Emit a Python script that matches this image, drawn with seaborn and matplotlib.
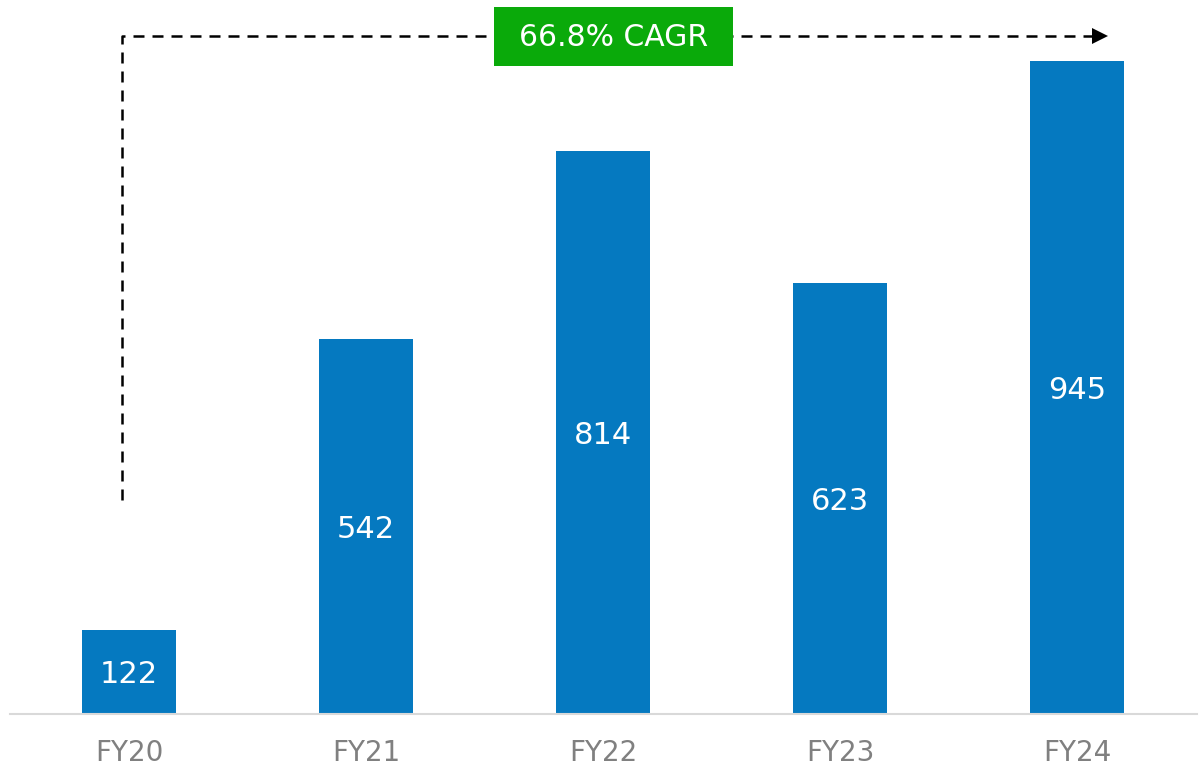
import matplotlib
matplotlib.use("Agg")
import matplotlib.pyplot as plt
import seaborn as sns
import pandas as pd
from matplotlib.patches import Rectangle

categories = ["FY20", "FY21", "FY22", "FY23", "FY24"]
values = [122, 542, 814, 623, 945]
cagr_label = "66.8% CAGR"

BAR_COLOR = "#0579C0"
GREEN = "#0AAA0A"
TICK_GRAY = "#808080"

sns.set_theme(style="white")
plt.rcParams["font.family"] = ["DejaVu Sans"]

df = pd.DataFrame({"year": categories, "value": values})

fig = plt.figure(figsize=(12.01, 7.65), dpi=100)
ax = fig.add_axes([10 / 1201, 51 / 765, 1187 / 1201, 714 / 765])

sns.barplot(data=df, x="year", y="value", color=BAR_COLOR, saturation=1,
            width=0.4, ax=ax, zorder=2, linewidth=0)

ax.set_xlim(-0.502, 4.506)
ax.set_ylim(0, 1033)

for i, v in enumerate(values):
    ax.text(i, v / 2 - 4, f"{v}", ha="center", va="center", color="white",
            fontsize=22, zorder=3)

# CAGR dashed connector
x0, y0 = -0.03, 310
ytop = 981
xend = 4.065
ax.plot([x0, x0, xend], [y0, ytop, ytop], color="black", lw=1.8,
        dashes=(4.4, 3.2), zorder=1, dash_capstyle="butt")
ax.plot([4.095], [ytop], marker=">", markersize=11, color="black",
        markeredgewidth=0, zorder=1)

# green label box
bx_c = 2.044
ax.add_patch(Rectangle((bx_c - 0.504, 938), 1.008, 85, facecolor=GREEN,
                       edgecolor="none", zorder=4))
ax.text(bx_c, 979, cagr_label, ha="center", va="center", color="white",
        fontsize=21.5, zorder=5)

# axes styling
for s in ["top", "right", "left"]:
    ax.spines[s].set_visible(False)
ax.spines["bottom"].set_color("#D9D9D9")
ax.spines["bottom"].set_linewidth(1.5)
ax.set_yticks([])
ax.set_xlabel("")
ax.set_ylabel("")
ax.tick_params(axis="x", length=0, pad=18, labelsize=20, labelcolor=TICK_GRAY)

fig.savefig("out.png", dpi=100)
